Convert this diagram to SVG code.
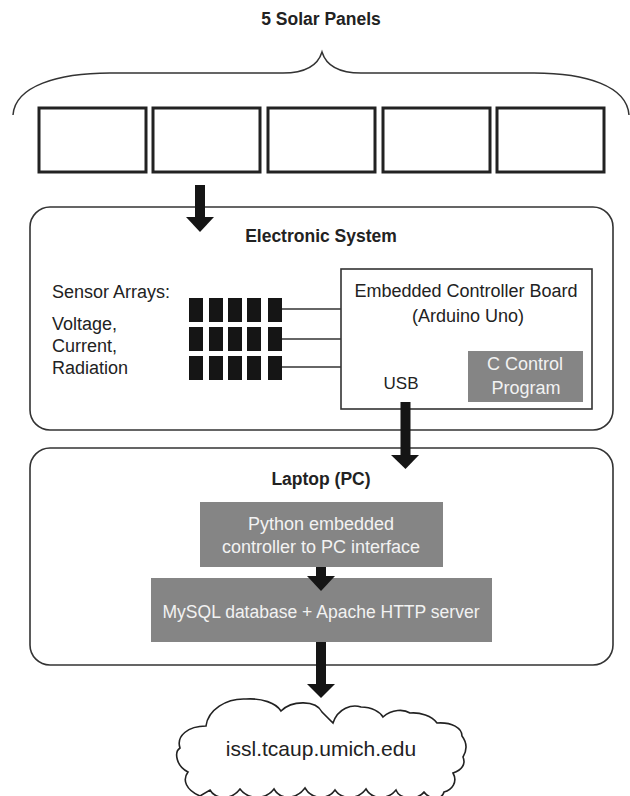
<svg xmlns="http://www.w3.org/2000/svg" width="630" height="796" viewBox="0 0 630 796">
<style>
text{font-family:"Liberation Sans",Arial,sans-serif;fill:#222}
.b{font-weight:bold;font-size:17.5px;text-anchor:middle}
.t{font-size:18px}
.c{text-anchor:middle}
.w{fill:#f2f2f2}
.panel{fill:#fff;stroke:#222;stroke-width:3}
.frame{fill:#fff;stroke:#333;stroke-width:1.6}
.gray{fill:#858585}
.blk{fill:#151515}
.arr{fill:#151515}
.ln{stroke:#333;stroke-width:1.5;fill:none}
</style>
<rect width="630" height="796" fill="#fff"/>

<g id="solar-panels">
<text class="b" x="321" y="25">5 Solar Panels</text>
<path class="ln" d="M13,115 C15,86 58,73 110,73 L283,73 C305,73 318,65 322,52 C326,65 339,73 361,73 L534,73 C586,73 627,86 629,115"/>
<rect class="panel" x="39" y="108" width="107" height="64"/>
<rect class="panel" x="153" y="108" width="107" height="64"/>
<rect class="panel" x="268" y="108" width="107" height="64"/>
<rect class="panel" x="383" y="108" width="107" height="64"/>
<rect class="panel" x="497" y="108" width="107" height="64"/>
</g>

<g id="electronic-system">
<rect class="frame" x="30" y="207" width="583" height="223" rx="20"/>
<text class="b" x="321" y="242">Electronic System</text>
</g>

<g id="sensor-arrays">
<text class="t" x="52" y="298">Sensor Arrays:</text>
<text class="t" x="52" y="330">Voltage,</text>
<text class="t" x="52" y="352">Current,</text>
<text class="t" x="52" y="374">Radiation</text>
<g class="blk">
<rect x="189" y="298" width="14" height="24"/><rect x="209" y="298" width="14" height="24"/><rect x="228" y="298" width="14" height="24"/><rect x="247" y="298" width="14" height="24"/><rect x="268" y="298" width="14" height="24"/>
<rect x="189" y="327" width="14" height="24"/><rect x="209" y="327" width="14" height="24"/><rect x="228" y="327" width="14" height="24"/><rect x="247" y="327" width="14" height="24"/><rect x="268" y="327" width="14" height="24"/>
<rect x="189" y="356" width="14" height="24"/><rect x="209" y="356" width="14" height="24"/><rect x="228" y="356" width="14" height="24"/><rect x="247" y="356" width="14" height="24"/><rect x="268" y="356" width="14" height="24"/>
</g>
</g>

<g id="controller-board">
<rect class="frame" x="341" y="269" width="251" height="140"/>
<text class="t c" x="466" y="297">Embedded Controller Board</text>
<text class="t c" x="468" y="322">(Arduino Uno)</text>
<text class="t c" x="401" y="389" style="font-size:17px">USB</text>
</g>

<g id="c-control-program">
<rect class="gray" x="468" y="351" width="115" height="51"/>
<text class="t c w" x="525" y="370">C Control</text>
<text class="t c w" x="526" y="394">Program</text>
</g>

<g id="laptop">
<rect class="frame" x="30" y="448" width="583" height="217" rx="20"/>
<text class="b" x="321" y="485">Laptop (PC)</text>
</g>

<g id="python-interface">
<rect class="gray" x="200" y="502" width="243" height="65"/>
<text class="t c w" x="321" y="530">Python embedded</text>
<text class="t c w" x="321" y="553">controller to PC interface</text>
</g>

<g id="mysql-apache">
<rect class="gray" x="151" y="578" width="341" height="64"/>
<text class="t c w" x="321" y="618" textLength="317" lengthAdjust="spacingAndGlyphs">MySQL database + Apache HTTP server</text>
</g>

<g id="website">
<path fill="#fff" stroke="#222" stroke-width="1.6" d="M200,796 C186,790 182,780 188,772 C176,766 174,752 180,748 C176,736 188,726 206,726 C208,710 226,698 246,699 C262,698 276,703 281,711 C292,700 316,700 322,712 C326,716 330,720 333,723 C338,708 352,704 361,707 C372,707 380,712 383,717 C392,709 404,709 410,713 C420,712 432,716 437,723 C452,722 462,728 462,736 C468,744 466,752 463,757 C466,764 462,770 453,773 C458,782 452,790 444,792 C442,800 430,800 424,792 C418,800 400,800 396,790 C388,800 372,800 366,789 C358,800 342,800 335,790 C328,800 312,800 305,788 C296,800 280,800 274,789 C266,800 248,800 240,789 C232,800 216,800 210,790 Z"/>
<text class="c" x="321" y="756" style="font-size:21px">issl.tcaup.umich.edu</text>
</g>

<g id="connectors">
<g class="ln">
<line x1="282" y1="309" x2="341" y2="309"/>
<line x1="282" y1="339" x2="341" y2="339"/>
<line x1="282" y1="367" x2="341" y2="367"/>
</g>
<g class="arr">
<rect x="195" y="185" width="10" height="33"/><polygon points="186,217 214,217 200,232"/>
<rect x="400.5" y="402" width="10" height="54"/><polygon points="391,455 419,455 405.5,469"/>
<rect x="316" y="567" width="10" height="10"/><polygon points="307,576 335,576 321,591"/>
<rect x="316" y="642" width="10" height="43"/><polygon points="307,684 335,684 321,698"/>
</g>
</g>
</svg>
